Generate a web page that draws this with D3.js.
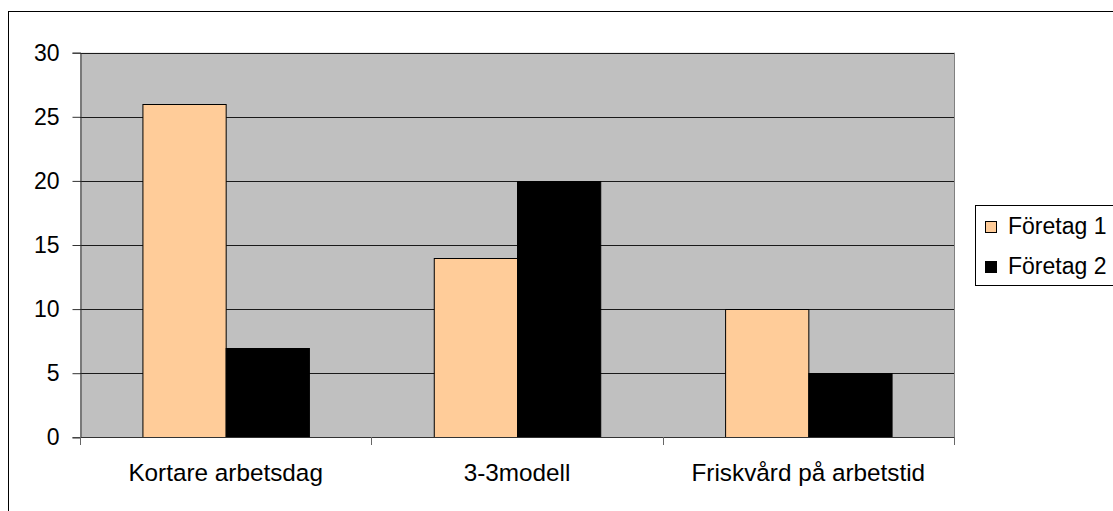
<!DOCTYPE html>
<html>
<head>
<meta charset="utf-8">
<script src="https://cdn.jsdelivr.net/npm/d3@7"></script>
<style>
  html, body { margin: 0; padding: 0; background: #fff; overflow: hidden; }
  svg { display: block; }
  text { font-family: "Liberation Sans", Arial, sans-serif; fill: #000; }
</style>
</head>
<body>
<svg id="chart" width="1113" height="511"></svg>
<script>
// Chart data
const categories = ["Kortare arbetsdag", "3-3modell", "Friskvård på arbetstid"];
const seriesNames = ["Företag 1", "Företag 2"];
const foretag1 = [26, 14, 10];
const foretag2 = [7, 20, 5];
const yTicks = [0, 5, 10, 15, 20, 25, 30];
const seriesColors = ["#FFCC99", "#000000"];

const values = [foretag1, foretag2];
const svg = d3.select("#chart");
const fontSize = 23;
const catFontSize = 24.3;

// Outer chart frame (runs off the right and bottom edge)
svg.append("rect")
  .attr("x", 8.5).attr("y", 11.5)
  .attr("width", 1130).attr("height", 520)
  .attr("fill", "#fff").attr("stroke", "#000").attr("stroke-width", 1);

const plot = { left: 80, right: 954, top: 52.7, bottom: 437.3 };

const x0 = d3.scaleBand().domain(categories).range([plot.left, plot.right]).padding(0);
const x1 = d3.scaleBand().domain(seriesNames).range([0, x0.bandwidth()])
  .paddingInner(0).paddingOuter(0.75);
const y = d3.scaleLinear().domain([0, 30]).range([plot.bottom, plot.top]);

// Plot area background
svg.append("rect")
  .attr("x", plot.left).attr("y", plot.top)
  .attr("width", plot.right - plot.left).attr("height", plot.bottom - plot.top)
  .attr("fill", "#C0C0C0");

// Right border of plot area
svg.append("line")
  .attr("x1", plot.right + 0.5).attr("x2", plot.right + 0.5)
  .attr("y1", plot.top).attr("y2", plot.bottom)
  .attr("stroke", "#808080");

// Horizontal gridlines
svg.append("g").selectAll("line")
  .data(yTicks.filter(d => d > 0))
  .join("line")
  .attr("x1", plot.left).attr("x2", plot.right)
  .attr("y1", d => Math.round(y(d)) + 0.5).attr("y2", d => Math.round(y(d)) + 0.5)
  .attr("stroke", "#1a1a1a").attr("stroke-width", 1);

// Bars
const groups = svg.append("g").selectAll("g")
  .data(categories)
  .join("g")
  .attr("transform", c => `translate(${x0(c)},0)`);

groups.selectAll("rect")
  .data((c, i) => seriesNames.map((s, j) => ({ s, j, v: values[j][i] })))
  .join("rect")
  .attr("x", d => x1(d.s) + 0.5)
  .attr("y", d => Math.round(y(d.v)) + 0.5)
  .attr("width", x1.bandwidth())
  .attr("height", d => Math.round(y(0)) - Math.round(y(d.v)))
  .attr("fill", d => seriesColors[d.j])
  .attr("stroke", "#000").attr("stroke-width", 1);

// Y axis
const yAxis = d3.axisLeft(y).tickValues(yTicks).tickSize(8).tickPadding(13);
const gy = svg.append("g").attr("transform", `translate(${plot.left + 0.5},0)`).call(yAxis);
gy.select(".domain").attr("stroke", "#333");
gy.selectAll(".tick line").attr("stroke", "#333");
gy.selectAll(".tick text")
  .style("font-family", '"Liberation Sans", Arial, sans-serif')
  .style("font-size", fontSize + "px").attr("fill", "#000");

// X axis line and category separators
svg.append("line")
  .attr("x1", plot.left).attr("x2", plot.right + 1)
  .attr("y1", Math.round(plot.bottom) + 0.5).attr("y2", Math.round(plot.bottom) + 0.5)
  .attr("stroke", "#333");

const sepX = categories.map(c => x0(c)).concat([plot.right]);
svg.append("g").selectAll("line")
  .data(sepX)
  .join("line")
  .attr("x1", d => Math.round(d) + 0.5).attr("x2", d => Math.round(d) + 0.5)
  .attr("y1", Math.round(plot.bottom)).attr("y2", Math.round(plot.bottom) + 8)
  .attr("stroke", "#666");

// Category labels
svg.append("g").selectAll("text")
  .data(categories)
  .join("text")
  .attr("x", c => x0(c) + x0.bandwidth() / 2)
  .attr("y", 481)
  .attr("text-anchor", "middle")
  .style("font-size", catFontSize + "px")
  .text(c => c);

// Legend
const legend = svg.append("g");
legend.append("rect")
  .attr("x", 975.5).attr("y", 205.5)
  .attr("width", 160).attr("height", 80)
  .attr("fill", "#fff").attr("stroke", "#000");

const rows = legend.selectAll("g.row")
  .data(seriesNames)
  .join("g")
  .attr("class", "row")
  .attr("transform", (d, i) => `translate(0,${i * 40})`);

rows.append("rect")
  .attr("x", 985.5).attr("y", 221.5)
  .attr("width", 11).attr("height", 11)
  .attr("fill", (d, i) => seriesColors[i])
  .attr("stroke", "#000");

rows.append("text")
  .attr("x", 1008).attr("y", 233.5)
  .style("font-size", fontSize + "px")
  .text(d => d);
</script>
</body>
</html>
